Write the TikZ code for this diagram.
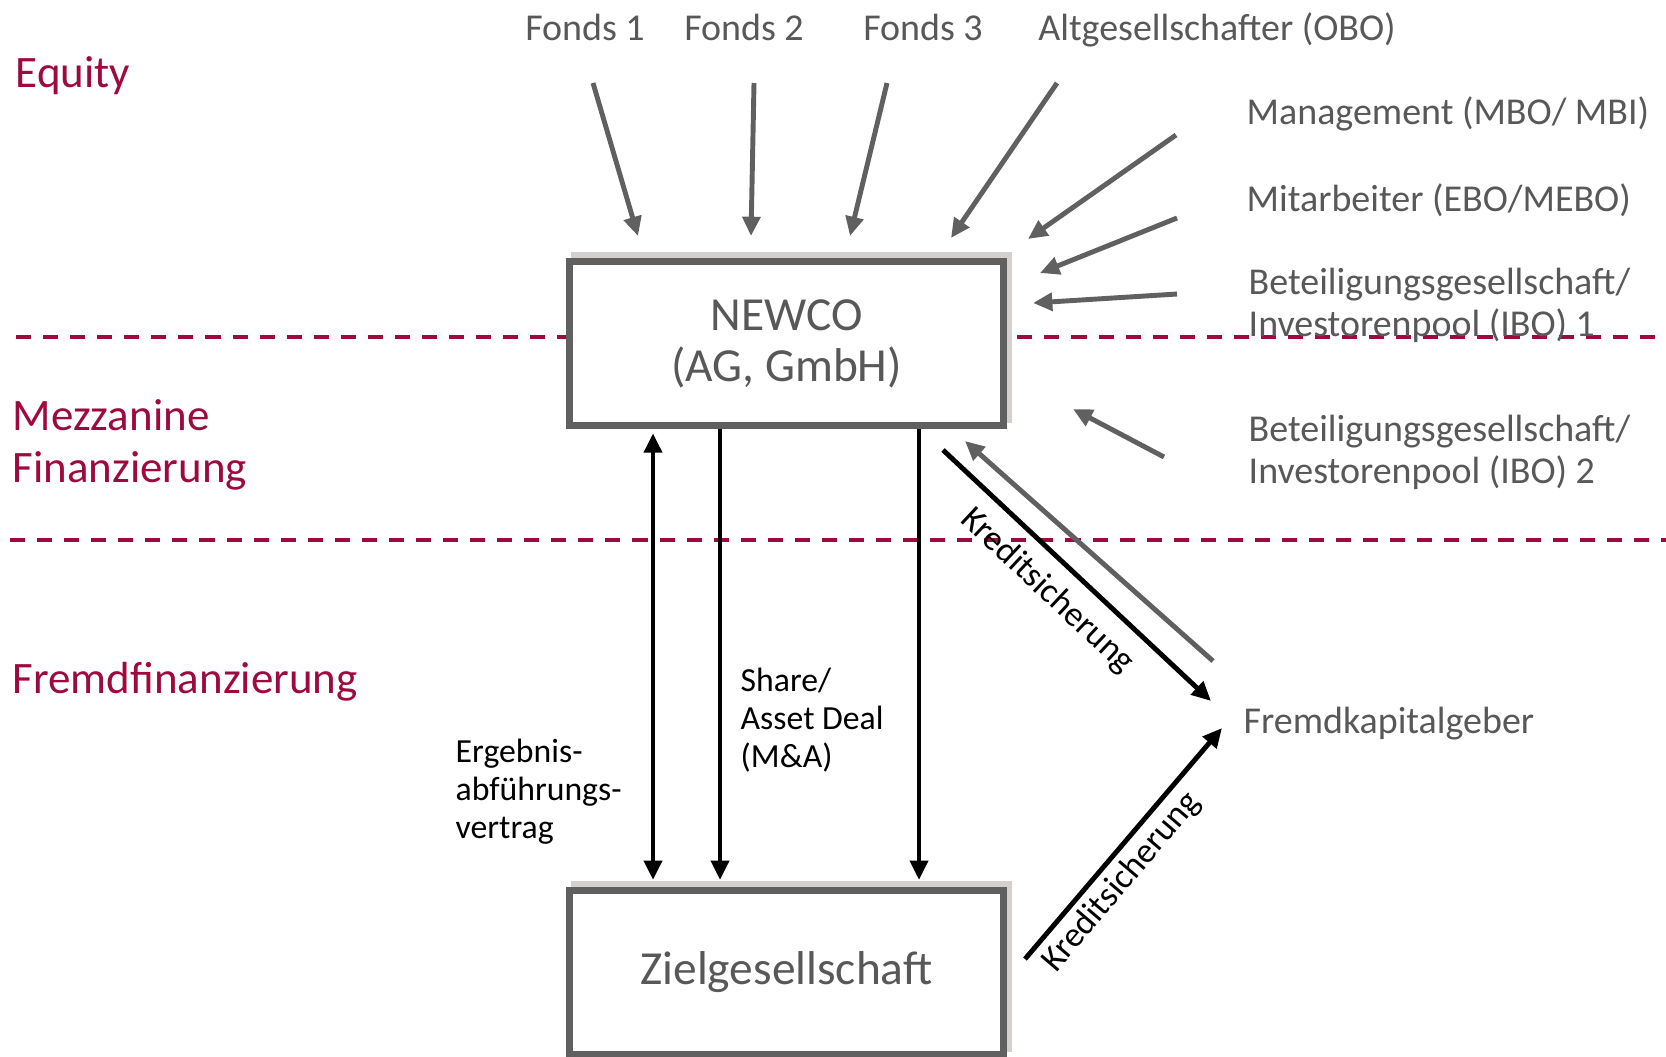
\documentclass[tikz,border=0pt]{standalone}
\usepackage{fontspec}
\setmainfont{Carlito}
\usepackage{tikz}
\usetikzlibrary{arrows.meta,positioning,shadows}

\definecolor{crimson}{RGB}{158,10,62}
\definecolor{textgray}{RGB}{88,88,88}
\definecolor{linegray}{RGB}{96,96,96}
\definecolor{shadowgray}{RGB}{212,208,205}

\begin{document}
\begin{tikzpicture}[
    >={Triangle[length=5.5pt,width=5pt]},
    box/.style={rectangle, draw=linegray, line width=2pt, fill=white, minimum width=4.34cm, minimum height=1.64cm, align=center, text=textgray, font=\fontsize{13.5}{14.5}\selectfont,
        drop shadow={shadow xshift=0.05cm, shadow yshift=0.06cm, fill=shadowgray, draw=shadowgray, line width=2pt, opacity=1}},
    section/.style={inner sep=0pt, align=left, text=crimson, font=\fontsize{12.8}{15}\selectfont},
    party/.style={inner sep=0pt, align=left, text=textgray, font=\fontsize{10.8}{11.9}\selectfont},
    deal/.style={inner sep=0pt, anchor=west, align=left, font=\fontsize{9.6}{10.8}\selectfont},
    security/.style={sloped, below, inner sep=4pt, font=\fontsize{10}{12}\selectfont},
    split/.style={crimson, line width=0.9pt, dash pattern=on 4.3pt off 3.4pt},
    garrow/.style={->, linegray, line width=1.4pt},
    barrow/.style={->, black, line width=1.4pt},
]
    \useasboundingbox (0,0) rectangle (16.66,-10.56);

    % Section borders
    \draw[split] (0.16,-3.37) -- (16.66,-3.37);
    \draw[split] (0.10,-5.40) -- (16.66,-5.40);

    % Boxes
    \node[box] (newco) at (7.865,-3.435) {NEWCO\\(AG, GmbH)};
    \node[box] (ziel) at (7.865,-9.725) {Zielgesellschaft};

    % Sections
    \node[section, anchor=base west] (equity) at (0.15,-0.87) {Equity};
    \node[section, anchor=west] (mezz) at (0.12,-4.45) {Mezzanine\\Finanzierung};
    \node[section, anchor=base west] (fremdfin) at (0.12,-6.93) {Fremdfinanzierung};

    % Investors
    \node[party, anchor=base] (fonds1) at (5.85,-0.40) {Fonds 1};
    \node[party, anchor=base] (fonds2) at (7.44,-0.40) {Fonds 2};
    \node[party, anchor=base] (fonds3) at (9.23,-0.40) {Fonds 3};
    \node[party, anchor=base] (altges) at (12.17,-0.40) {Altgesellschafter (OBO)};
    \node[party, anchor=base west] (mgmt) at (12.46,-1.24) {Management (MBO/ MBI)};
    \node[party, anchor=base west] (mitarb) at (12.46,-2.11) {Mitarbeiter (EBO/MEBO)};
    \node[party, anchor=west] (ibo1) at (12.48,-3.05) {Beteiligungsgesellschaft/\\Investorenpool (IBO) 1};
    \node[party, anchor=west] (ibo2) at (12.48,-4.52) {Beteiligungsgesellschaft/\\Investorenpool (IBO) 2};
    \node[party, anchor=base west] (lender) at (12.43,-7.33) {Fremdkapitalgeber};

    % Deal labels
    \node[deal] (eav) at (4.55,-7.92) {Ergebnis-\\abführungs-\\vertrag};
    \node[deal] (share) at (7.40,-7.20) {Share/\\Asset Deal\\(M\&A)};

    % Arrow ends
    \coordinate (f1out) at (5.93,-0.83);   \coordinate (f1in) at (6.38,-2.36);
    \coordinate (f2out) at (7.54,-0.83);   \coordinate (f2in) at (7.51,-2.36);
    \coordinate (f3out) at (8.87,-0.83);   \coordinate (f3in) at (8.50,-2.36);
    \coordinate (altout) at (10.57,-0.83); \coordinate (altin) at (9.51,-2.38);
    \coordinate (mgmtout) at (11.76,-1.35); \coordinate (mgmtin) at (10.28,-2.39);
    \coordinate (mitout) at (11.77,-2.18); \coordinate (mitin) at (10.40,-2.73);
    \coordinate (ibo1out) at (11.77,-2.94); \coordinate (ibo1in) at (10.33,-3.03);
    \coordinate (ibo2out) at (11.64,-4.57); \coordinate (ibo2in) at (10.73,-4.09);
    \coordinate (sec1a) at (9.43,-4.50);   \coordinate (sec1b) at (12.11,-7.01);
    \coordinate (loana) at (12.13,-6.61);  \coordinate (loanb) at (9.65,-4.41);
    \coordinate (sec2a) at (10.25,-9.59);  \coordinate (sec2b) at (12.22,-7.28);

    % Equity arrows
    \draw[garrow] (f1out) -- (f1in);
    \draw[garrow] (f2out) -- (f2in);
    \draw[garrow] (f3out) -- (f3in);
    \draw[garrow] (altout) -- (altin);
    \draw[garrow] (mgmtout) -- (mgmtin);
    \draw[garrow] (mitout) -- (mitin);
    \draw[garrow] (ibo1out) -- (ibo1in);
    \draw[garrow] (ibo2out) -- (ibo2in);

    % NEWCO to target
    \draw[barrow, <->, shorten <=1.2pt, shorten >=2pt] ([xshift=-1.335cm]newco.south) -- ([xshift=-1.335cm]ziel.north);
    \draw[barrow, shorten >=2pt] ([xshift=-0.665cm]newco.south) -- ([xshift=-0.665cm]ziel.north);
    \draw[barrow, shorten >=2pt] ([xshift=1.325cm]newco.south) -- ([xshift=1.325cm]ziel.north);

    % Debt
    \draw[barrow] (sec1a) -- node[security, pos=0.47] {Kreditsicherung} (sec1b);
    \draw[garrow] (loana) -- (loanb);
    \draw[barrow] (sec2a) -- node[security, pos=0.40, inner sep=1.7pt] {Kreditsicherung} (sec2b);
\end{tikzpicture}
\end{document}
